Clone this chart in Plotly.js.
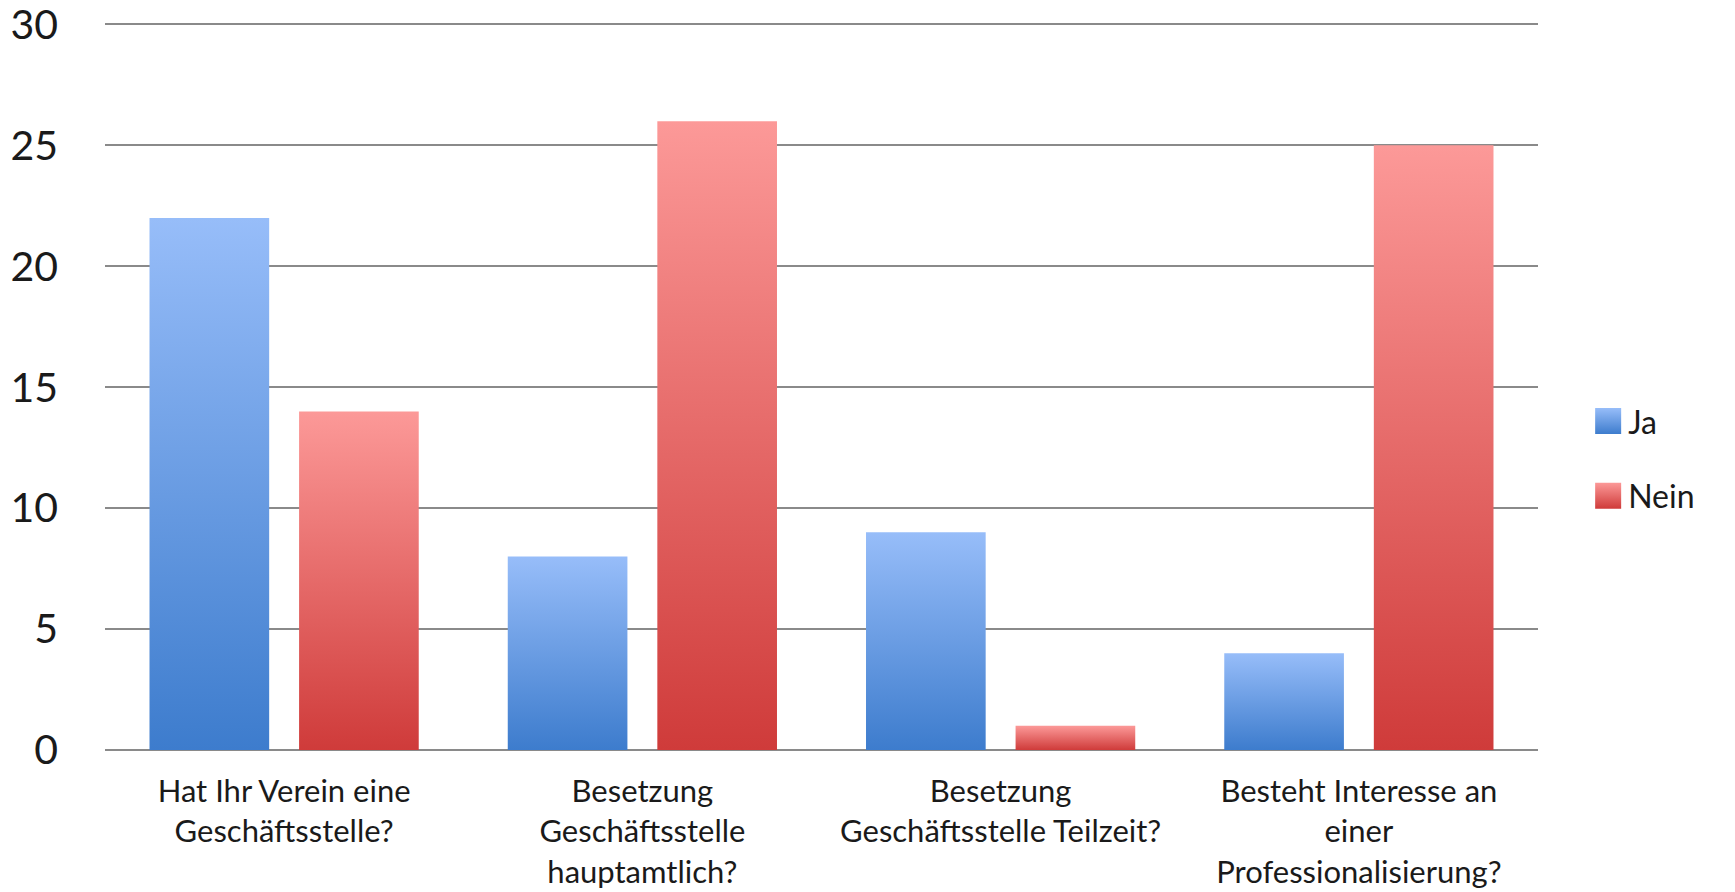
<!DOCTYPE html>
<html>
<head>
<meta charset="utf-8">
<script src="https://cdn.plot.ly/plotly-3.0.1.min.js"></script>
<style>
html,body{margin:0;padding:0;background:#fff;}
#chart{width:1735px;height:892px;}
</style>
</head>
<body>
<div id="chart"></div>
<script>
const categories = [
  "Hat Ihr Verein eine<br>Geschäftsstelle?",
  "Besetzung<br>Geschäftsstelle<br>hauptamtlich?",
  "Besetzung<br>Geschäftsstelle Teilzeit?",
  "Besteht Interesse an<br>einer<br>Professionalisierung?"
];
const seriesNames = ["Ja", "Nein"];
const jaValues = [22, 8, 9, 4];
const neinValues = [14, 26, 1, 25];
const yTickValues = [0, 5, 10, 15, 20, 25, 30];

const gradients = [
  {id: "gradJa", top: "#97BDF9", bottom: "#3D7CCD", solid: "#5A93E0"},
  {id: "gradNein", top: "#FC9998", bottom: "#CF3B3A", solid: "#E06464"}
];

const data = [
  {type: "bar", name: seriesNames[0], x: categories, y: jaValues,
   marker: {color: gradients[0].solid}, legendgroup: "a", hoverinfo: "y+name"},
  {type: "bar", name: seriesNames[1], x: categories, y: neinValues,
   marker: {color: gradients[1].solid}, legendgroup: "b", hoverinfo: "y+name"}
];

const layout = {
  width: 1735, height: 892,
  margin: {l: 105, r: 197, t: 22, b: 142},
  paper_bgcolor: "#ffffff", plot_bgcolor: "#ffffff",
  font: {family: "Lato, 'Open Sans', sans-serif", color: "#1a1a1a"},
  barmode: "group",
  bargap: 0.165,
  bargroupgap: 0.2,
  showlegend: true,
  legend: {x: 1.035, xanchor: "left", y: 0.40, yanchor: "middle",
           font: {size: 32, color: "#1a1a1a"}, traceorder: "grouped",
           tracegroupgap: 30, bgcolor: "rgba(0,0,0,0)"},
  xaxis: {type: "category", showgrid: false, zeroline: false,
          showline: false, ticks: "", tickfont: {size: 31, color: "#1a1a1a"},
          ticklabelstandoff: 20, fixedrange: true},
  yaxis: {range: [0, 30.1], tickvals: yTickValues, ticktext: yTickValues.map(String),
          showgrid: true, gridcolor: "#8a8a8a", gridwidth: 2,
          zeroline: true, zerolinecolor: "#8a8a8a", zerolinewidth: 2,
          showline: false, ticks: "", tickfont: {size: 41, color: "#1a1a1a"},
          ticklabelstandoff: 46, ticklabeloverflow: "allow", fixedrange: true}
};

function applyGradients(gd) {
  const svg = gd.querySelector("svg.main-svg");
  const ns = "http://www.w3.org/2000/svg";
  let defs = svg.querySelector("defs");
  if (!defs) { defs = document.createElementNS(ns, "defs"); svg.insertBefore(defs, svg.firstChild); }
  gradients.forEach(g => {
    if (document.getElementById(g.id)) return;
    const lg = document.createElementNS(ns, "linearGradient");
    lg.setAttribute("id", g.id);
    lg.setAttribute("x1", "0"); lg.setAttribute("y1", "0");
    lg.setAttribute("x2", "0"); lg.setAttribute("y2", "1");
    const s1 = document.createElementNS(ns, "stop");
    s1.setAttribute("offset", "0"); s1.setAttribute("stop-color", g.top);
    const s2 = document.createElementNS(ns, "stop");
    s2.setAttribute("offset", "1"); s2.setAttribute("stop-color", g.bottom);
    lg.appendChild(s1); lg.appendChild(s2); defs.appendChild(lg);
  });
  const traces = gd.querySelectorAll(".barlayer .trace");
  traces.forEach((t, i) => {
    t.querySelectorAll(".point path").forEach(p => {
      p.style.fill = "url(#" + gradients[i].id + ")";
    });
  });
  const legendTraces = gd.querySelectorAll(".legend .traces");
  legendTraces.forEach((t, i) => {
    t.querySelectorAll(".legendpoints path").forEach(p => {
      p.setAttribute("d", "M13,13H-13V-13H13Z");
      p.style.fill = "url(#" + gradients[i].id + ")";
      p.style.strokeWidth = "0";
    });
  });
}

const gd = document.getElementById("chart");
Plotly.newPlot(gd, data, layout, {displayModeBar: false, staticPlot: true}).then(() => {
  applyGradients(gd);
});
</script>
</body>
</html>
